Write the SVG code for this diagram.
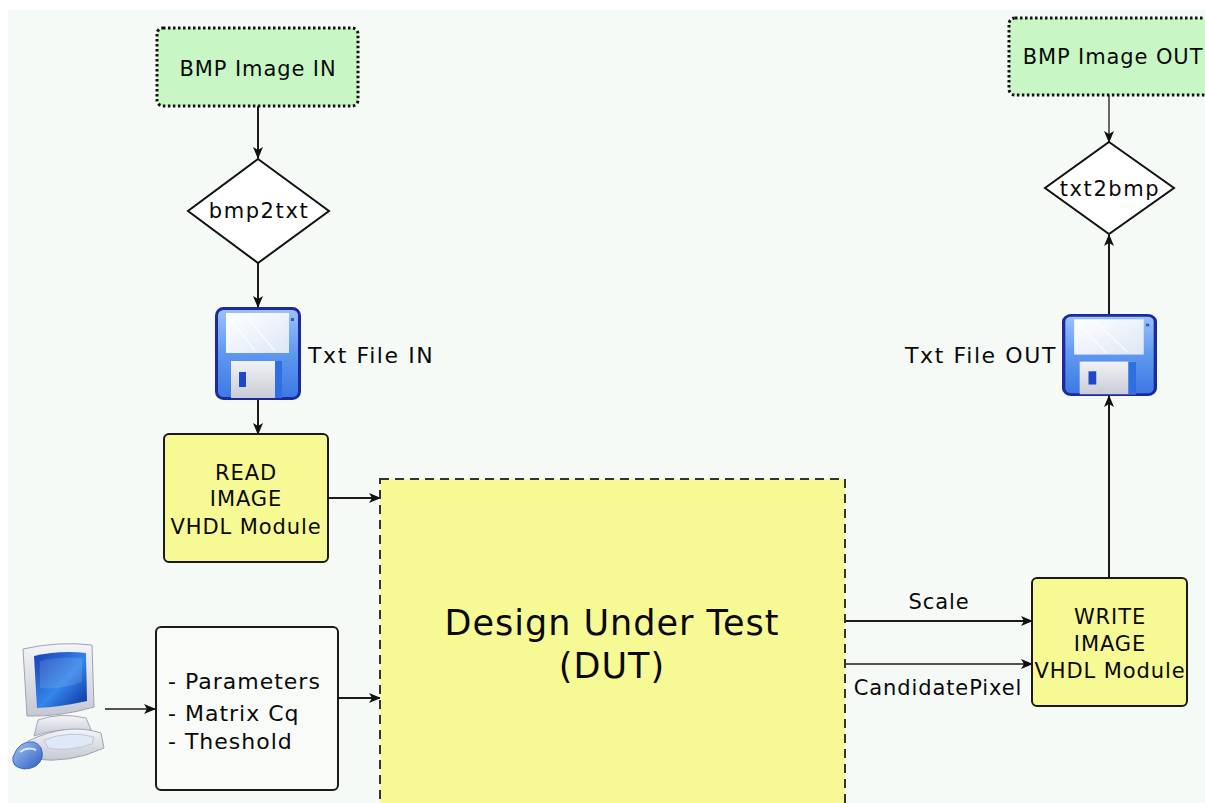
<svg xmlns="http://www.w3.org/2000/svg" width="1205" height="803" viewBox="0 0 1205 803">
  <style>
    text { font-family: "DejaVu Sans", "Liberation Sans", sans-serif; fill: #0a0a0a; }
    .lbl { font-size: 21px; letter-spacing: 0.9px; }
    .big { font-size: 22px; letter-spacing: 1.6px; }
    .mid { text-anchor: middle; }
    .wire { stroke: #1a1a1a; stroke-width: 2; fill: none; }
    .thin { stroke: #1a1a1a; stroke-width: 1.3; fill: none; }
    .term { fill: #c8f7c5; stroke: #111; stroke-width: 3; stroke-dasharray: 2.5 2.5; }
    .module { fill: #f7f995; stroke: #1a1a1a; stroke-width: 2; }
    .dut { fill: #f7f995; stroke: #333; stroke-width: 2; stroke-dasharray: 9 6; }
    .conv { fill: #ffffff; stroke: #111; stroke-width: 2; }
    .param { fill: #f9fbf9; stroke: #1a1a1a; stroke-width: 2; }
  </style>
  <defs>
    <marker id="arrow" viewBox="0 0 12 10" refX="11" refY="5" markerWidth="12" markerHeight="10" markerUnits="userSpaceOnUse" orient="auto">
      <path d="M0,0 L12,5 L0,10 L3,5 Z" fill="#111"/>
    </marker>
    <linearGradient id="diskBody" x1="0" y1="0" x2="0" y2="1">
      <stop offset="0" stop-color="#9cc2fb"/>
      <stop offset="0.5" stop-color="#5f98f0"/>
      <stop offset="1" stop-color="#3c78e4"/>
    </linearGradient>
    <linearGradient id="diskLabel" x1="0" y1="0" x2="1" y2="1">
      <stop offset="0" stop-color="#ffffff"/>
      <stop offset="0.5" stop-color="#eef3fb"/>
      <stop offset="1" stop-color="#dde6f4"/>
    </linearGradient>
    <linearGradient id="diskShutter" x1="0" y1="0" x2="0" y2="1">
      <stop offset="0" stop-color="#f2f2f4"/>
      <stop offset="1" stop-color="#c9ccd6"/>
    </linearGradient>
    <linearGradient id="screen" x1="0" y1="0" x2="1" y2="1">
      <stop offset="0" stop-color="#1a3db5"/>
      <stop offset="0.55" stop-color="#3286ea"/>
      <stop offset="1" stop-color="#0d2f9c"/>
    </linearGradient>
    <linearGradient id="case" x1="0" y1="0" x2="0" y2="1">
      <stop offset="0" stop-color="#f4f5f8"/>
      <stop offset="1" stop-color="#c4c8d2"/>
    </linearGradient>
    <linearGradient id="mouseBody" x1="0" y1="0" x2="1" y2="1">
      <stop offset="0" stop-color="#a8c6f2"/>
      <stop offset="1" stop-color="#2a5cc4"/>
    </linearGradient>
    <symbol id="floppy" viewBox="0 0 86 93" preserveAspectRatio="none">
      <rect x="1.5" y="1.5" width="83" height="90" rx="7" fill="url(#diskBody)" stroke="#1d2a9e" stroke-width="3"/>
      <rect x="11" y="6" width="63" height="40" fill="url(#diskLabel)"/>
      <path d="M14,10 L40,44 M30,8 L60,44" stroke="#ffffff" stroke-width="2" opacity="0.6"/>
      <rect x="76" y="11" width="3" height="3" fill="#3a58b8"/>
      <rect x="16" y="54" width="51" height="37" fill="url(#diskShutter)"/>
      <rect x="60" y="54" width="7" height="37" fill="#2f6fe0"/>
      <rect x="24" y="65" width="7" height="15" fill="#1f48c8"/>
    </symbol>
  </defs>

  <!-- canvas -->
  <rect x="0" y="0" width="1205" height="803" fill="#ffffff"/>
  <rect x="8" y="10" width="1197" height="793" fill="#f5faf7"/>

  <!-- connectors -->
  <g id="connectors">
    <line class="wire" x1="258" y1="106" x2="258" y2="158" marker-end="url(#arrow)"/>
    <line class="wire" x1="258" y1="263" x2="258" y2="307" marker-end="url(#arrow)"/>
    <line class="wire" x1="258" y1="400" x2="258" y2="434" marker-end="url(#arrow)"/>
    <line class="wire" x1="328" y1="498" x2="380" y2="498" marker-end="url(#arrow)"/>
    <line class="wire" x1="338" y1="698" x2="380" y2="698" marker-end="url(#arrow)"/>
    <line class="thin" x1="105" y1="709" x2="155" y2="709" marker-end="url(#arrow)"/>
    <line class="wire" x1="845" y1="621" x2="1032" y2="621" marker-end="url(#arrow)"/>
    <line class="thin" x1="845" y1="664" x2="1032" y2="664" marker-end="url(#arrow)"/>
    <line class="wire" x1="1109" y1="578" x2="1109" y2="396" marker-end="url(#arrow)"/>
    <line class="wire" x1="1109" y1="314" x2="1109" y2="235" marker-end="url(#arrow)"/>
    <line class="thin" x1="1109" y1="95" x2="1109" y2="142" marker-end="url(#arrow)"/>
    <text x="939" y="609" class="lbl mid">Scale</text>
    <text x="938" y="695" class="lbl mid">CandidatePixel</text>
  </g>

  <!-- source image -->
  <g id="bmp-in">
    <rect class="term" x="157" y="28" width="201" height="78" rx="6"/>
    <text x="258" y="76" class="lbl mid">BMP Image IN</text>
  </g>

  <g id="bmp2txt">
    <polygon class="conv" points="258,159 329,211 258,263 188,211"/>
    <text x="259" y="218" class="lbl mid" style="letter-spacing:1.6px">bmp2txt</text>
  </g>

  <g id="txt-in">
    <use href="#floppy" x="215" y="307" width="86" height="93"/>
    <text x="308" y="363" class="big">Txt File IN</text>
  </g>

  <g id="read-image">
    <rect class="module" x="164" y="434" width="164" height="128" rx="5"/>
    <text x="246" y="480" class="lbl mid">READ</text>
    <text x="246" y="506" class="lbl mid">IMAGE</text>
    <text x="246" y="534" class="lbl mid">VHDL Module</text>
  </g>

  <!-- host computer -->
  <g id="host">
    <path d="M38,720 Q60,712 86,718 L92,732 Q62,726 34,736 Z" fill="url(#case)" stroke="#a4a9b6" stroke-width="1"/>
    <path d="M23,649 Q58,641 92,645 L94,707 Q60,717 27,716 Z" fill="url(#case)" stroke="#9ea4b2" stroke-width="1"/>
    <path d="M34,656 Q60,650 86,653 L87,701 Q60,707 37,708 Z" fill="url(#screen)"/>
    <path d="M40,661 Q60,656 82,658 L82,682 Q60,690 40,688 Z" fill="#ffffff" opacity="0.12"/>
    <path d="M28,741 Q68,722 101,733 L104,748 Q70,764 34,759 Z" fill="url(#case)" stroke="#9ea4b2" stroke-width="1"/>
    <path d="M44,740 Q70,730 94,737 L92,744 Q68,752 48,748 Z" fill="#dfe8f6" stroke="#b6c0d2" stroke-width="0.8"/>
    <path d="M13,757 Q19,740 34,742 Q44,746 42,758 Q38,769 24,769 Q11,767 13,757 Z" fill="url(#mouseBody)" stroke="#3056a8" stroke-width="0.8"/>
    <path d="M20,752 Q28,746 36,750" stroke="#dce8fb" stroke-width="2" fill="none"/>
  </g>

  <g id="parameters">
    <rect class="param" x="156" y="627" width="182" height="163" rx="5"/>
    <text x="168" y="689" style="font-size:22px; letter-spacing:1px">- Parameters</text>
    <text x="168" y="721" style="font-size:22px; letter-spacing:1px">- Matrix Cq</text>
    <text x="168" y="749" style="font-size:22px; letter-spacing:1px">- Theshold</text>
  </g>

  <g id="dut">
    <rect class="dut" x="380" y="479" width="465" height="340"/>
    <text x="612" y="635" class="mid" style="font-size:35px; letter-spacing:1px">Design Under Test</text>
    <text x="612" y="678" class="mid" style="font-size:35px; letter-spacing:1px">(DUT)</text>
  </g>

  <g id="write-image">
    <rect class="module" x="1032" y="578" width="155" height="128" rx="5"/>
    <text x="1110" y="624" class="lbl mid">WRITE</text>
    <text x="1110" y="651" class="lbl mid">IMAGE</text>
    <text x="1110" y="678" class="lbl mid">VHDL Module</text>
  </g>

  <g id="txt-out">
    <use href="#floppy" x="1062" y="314" width="95" height="82"/>
    <text x="1057" y="363" class="big" style="text-anchor:end">Txt File OUT</text>
  </g>

  <g id="txt2bmp">
    <polygon class="conv" points="1109,142 1174,188 1109,234 1045,188"/>
    <text x="1110" y="196" class="lbl mid" style="letter-spacing:1.6px">txt2bmp</text>
  </g>

  <!-- result image -->
  <g id="bmp-out">
    <rect class="term" x="1009" y="18" width="210" height="77" rx="6"/>
    <text x="1113" y="64" class="lbl mid">BMP Image OUT</text>
  </g>
</svg>
